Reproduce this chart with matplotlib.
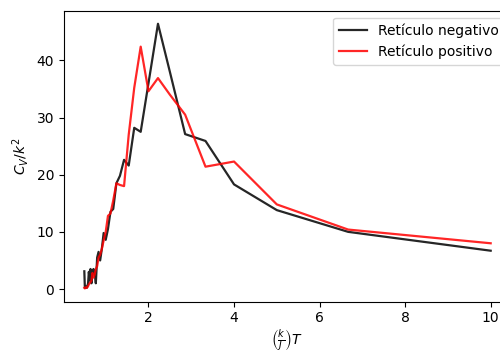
import numpy as np
import matplotlib
matplotlib.use("Agg")
import matplotlib.pyplot as plt

# temperatures (k/J)T, same grid for both lattices
T = [10.0, 6.667, 5.0, 4.0, 3.333, 2.857, 2.5, 2.222, 2.0, 1.818,
     1.667, 1.538, 1.429, 1.333, 1.25, 1.176, 1.111, 1.053, 1.0, 0.952,
     0.909, 0.870, 0.833, 0.8, 0.769, 0.741, 0.714, 0.690, 0.667, 0.645,
     0.625, 0.606, 0.588, 0.571, 0.556, 0.541, 0.526, 0.513, 0.5]

# specific heat, negative lattice
cv_neg = [6.7, 10.0, 13.8, 18.3, 25.9, 27.1, 38.0, 46.4, 36.0, 27.5,
          28.2, 21.6, 22.6, 19.8, 18.5, 14.0, 13.5, 10.5, 8.6, 9.8,
          7.0, 5.0, 6.5, 5.5, 1.0, 3.0, 3.5, 2.5, 1.0, 3.5,
          1.5, 3.0, 1.0, 0.5, 0.2, 0.3, 0.5, 0.2, 3.1]

# specific heat, positive lattice
cv_pos = [8.0, 10.4, 14.8, 22.3, 21.4, 30.5, 34.0, 36.9, 34.6, 42.4,
          35.2, 27.0, 18.0, 18.2, 18.5, 15.5, 13.2, 12.8, 10.0, 8.5,
          7.0, 6.0, 5.5, 4.0, 3.5, 2.5, 2.0, 2.8, 1.5, 1.2,
          1.0, 0.8, 0.5, 0.3, 0.2, 0.3, 0.2, 0.1, 0.2]

fig = plt.figure(figsize=(5, 3.52), dpi=100)
ax = fig.add_axes([0.128, 0.143, 0.894, 0.827])

ax.plot(T, cv_neg, color='k', alpha=0.85, lw=1.6, label='Retículo negativo')
ax.plot(T, cv_pos, color='r', alpha=0.85, lw=1.6, label='Retículo positivo')

ax.set_xticks([2, 4, 6, 8, 10])
ax.set_yticks([0, 10, 20, 30, 40])
ax.set_xlabel(r'$\left(\frac{k}{J}\right)T$', labelpad=1)
ax.set_ylabel(r'$C_V/k^2$')
ax.legend(loc='upper right')

fig.savefig('out.png', dpi=100)
